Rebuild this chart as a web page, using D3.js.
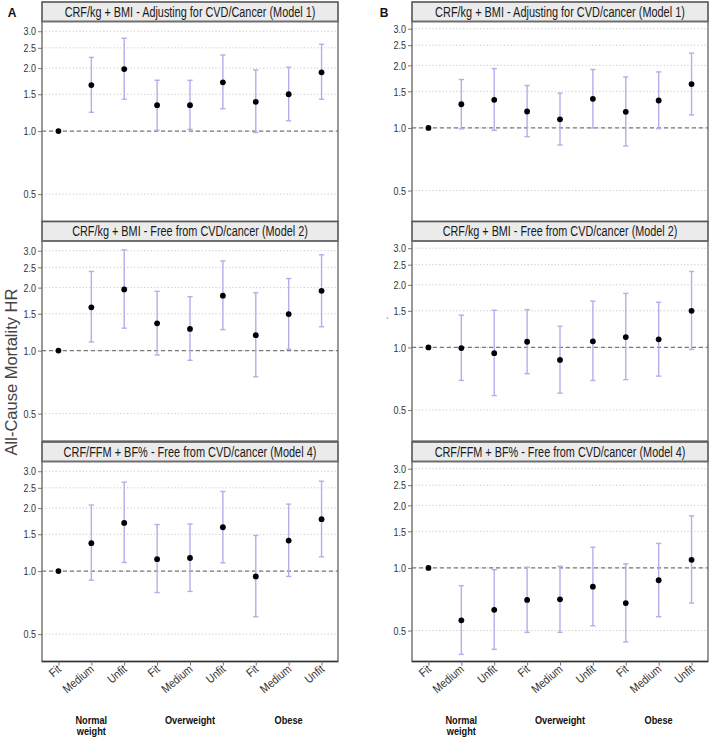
<!DOCTYPE html>
<html><head><meta charset="utf-8">
<script src="https://cdn.jsdelivr.net/npm/d3@7"></script>
<style>
body{margin:0;background:#fff;}
svg{display:block;}
text{font-family:"Liberation Sans",Arial,sans-serif;}
</style></head>
<body><svg id="c" width="709" height="740"></svg>
<script>
// ---- data ----
const categories = ["Fit","Medium","Unfit","Fit","Medium","Unfit","Fit","Medium","Unfit"];
const groupLabels = [["Normal","weight"],["Overweight"],["Obese"]];
const groupCenterIdx = [1,4,7];
const yTicks = [0.5,1.0,1.5,2.0,2.5,3.0];
const yLabel = "All-Cause Mortality HR";
const titlesA = ["CRF/kg + BMI - Adjusting for CVD/Cancer (Model 1)","CRF/kg + BMI - Free from CVD/cancer (Model 2)","CRF/FFM + BF% - Free from CVD/cancer (Model 4)"];
const titlesB = ["CRF/kg + BMI - Adjusting for CVD/cancer (Model 1)","CRF/kg + BMI - Free from CVD/cancer (Model 2)","CRF/FFM + BF% - Free from CVD/cancer (Model 4)"];

// Column A
const hrA1 = [1.00,1.66,1.98,1.33,1.33,1.71,1.38,1.50,1.91];
const loA1 = [1.00,1.23,1.42,1.01,1.02,1.28,0.985,1.12,1.42];
const hiA1 = [1.00,2.25,2.78,1.75,1.75,2.31,1.96,2.02,2.60];
const hrA2 = [1.00,1.61,1.96,1.35,1.27,1.83,1.185,1.495,1.93];
const loA2 = [1.00,1.10,1.28,0.953,0.899,1.26,0.75,1.015,1.30];
const hiA2 = [1.00,2.39,3.03,1.92,1.81,2.68,1.89,2.21,2.87];
const hrA3 = [1.00,1.36,1.70,1.14,1.155,1.62,0.943,1.40,1.77];
const loA3 = [1.00,0.905,1.10,0.79,0.80,1.096,0.606,0.943,1.17];
const hiA3 = [1.00,2.07,2.66,1.67,1.68,2.40,1.48,2.09,2.69];
// Column B
const hrB1 = [1.00,1.30,1.365,1.20,1.10,1.38,1.195,1.355,1.625];
const loB1 = [1.00,0.99,0.974,0.908,0.828,1.00,0.819,0.993,1.155];
const hiB1 = [1.00,1.71,1.93,1.60,1.47,1.91,1.76,1.86,2.29];
const hrB2 = [1.00,0.993,0.939,1.065,0.871,1.07,1.122,1.094,1.50];
const loB2 = [1.00,0.694,0.587,0.748,0.603,0.694,0.70,0.728,0.978];
const hiB2 = [1.00,1.43,1.51,1.52,1.265,1.67,1.82,1.65,2.32];
const hrB3 = [1.00,0.56,0.629,0.702,0.707,0.813,0.678,0.873,1.094];
const loB3 = [1.00,0.384,0.406,0.49,0.49,0.527,0.441,0.583,0.678];
const hiB3 = [1.00,0.822,0.981,1.008,1.019,1.258,1.046,1.312,1.78];

const columns = [
  {letter:"A", x0:42, x1:338, domain:[0.370,3.34], titles:titlesA, titleW:[251,236,253],
   panels:[[hrA1,loA1,hiA1],[hrA2,loA2,hiA2],[hrA3,loA3,hiA3]], ylab:yLabel},
  {letter:"B", x0:412, x1:708, domain:[0.355,3.25], titles:titlesB, titleW:[250,235,251],
   panels:[[hrB1,loB1,hiB1],[hrB2,loB2,hiB2],[hrB3,loB3,hiB3]], ylab:"."}
];

const svg = d3.select("#c");
const stripTops = [2, 221.5, 442];
const stripH = 19.5, plotH = 200;
const ciColor = "#b3aeea";

function condense(sel, f) {
  sel.each(function(){
    const w = this.getComputedTextLength();
    if (w > 0) d3.select(this).attr("textLength", w*f).attr("lengthAdjust","spacingAndGlyphs");
  });
}

columns.forEach((col, ci) => {
  const x = d3.scalePoint().domain(d3.range(categories.length)).range([col.x0, col.x1]).padding(0.5);
  svg.append("text").attr("x", ci===0?12:384).attr("y", 17).attr("text-anchor","middle")
     .attr("font-weight","bold").attr("font-size",12).attr("fill","#111").text(col.letter);

  col.panels.forEach((pd, pi) => {
    const sTop = stripTops[pi];
    const pTop = sTop + stripH, pBot = pTop + plotH;
    const y = d3.scaleLog().domain(col.domain).range([pBot, pTop]);
    const g = svg.append("g");
    // strip
    g.append("rect").attr("x", col.x0).attr("y", sTop).attr("width", col.x1-col.x0).attr("height", stripH)
      .attr("fill","#ebebeb").attr("stroke","#555").attr("stroke-width",1.6);
    const tt = g.append("text").attr("x",0).attr("y",0).attr("text-anchor","middle")
      .attr("font-size",14.5).attr("fill","#1a1a1a").text(col.titles[pi]);
    const nat = tt.node().getComputedTextLength();
    tt.attr("transform",`translate(${(col.x0+col.x1)/2},${sTop+stripH/2+5}) scale(${col.titleW[pi]/nat},1)`);
    // gridlines
    g.selectAll("line.grid").data(yTicks).join("line")
      .attr("x1",col.x0).attr("x2",col.x1).attr("y1",d=>y(d)).attr("y2",d=>y(d))
      .attr("stroke","#c8c8c8").attr("stroke-width",1).attr("stroke-dasharray","1.2,2.2");
    // reference line
    g.append("line").attr("x1",col.x0).attr("x2",col.x1).attr("y1",y(1)).attr("y2",y(1))
      .attr("stroke","#7a7a7a").attr("stroke-width",1.3).attr("stroke-dasharray","4,3");
    // y axis
    const ya = d3.axisLeft(y).tickValues(yTicks).tickFormat(d3.format(".1f")).tickSize(4).tickPadding(2);
    const yg = g.append("g").attr("transform",`translate(${col.x0},0)`).call(ya);
    yg.select(".domain").remove();
    yg.selectAll(".tick line").attr("stroke","#777");
    yg.selectAll(".tick text").attr("font-size",11.5).attr("fill","#333");
    condense(yg.selectAll(".tick text"), 0.78);
    // error bars
    const [hr, lo, hi] = pd;
    const idx = d3.range(categories.length);
    g.selectAll("line.ci").data(idx).join("line")
      .attr("x1",i=>x(i)).attr("x2",i=>x(i)).attr("y1",i=>y(lo[i])).attr("y2",i=>y(hi[i]))
      .attr("stroke",ciColor).attr("stroke-width",1.4);
    ["lo","hi"].forEach(k => {
      const arr = k==="lo"?lo:hi;
      g.selectAll("line.cap"+k).data(idx).join("line")
        .attr("x1",i=>x(i)-2.6).attr("x2",i=>x(i)+2.6).attr("y1",i=>y(arr[i])).attr("y2",i=>y(arr[i]))
        .attr("stroke",ciColor).attr("stroke-width",1.4);
    });
    g.selectAll("circle").data(idx).join("circle")
      .attr("cx",i=>x(i)).attr("cy",i=>y(hr[i])).attr("r",2.9).attr("fill","#000");
    // panel border
    g.append("rect").attr("x",col.x0).attr("y",pTop).attr("width",col.x1-col.x0).attr("height",plotH)
      .attr("fill","none").attr("stroke","#6e6e6e").attr("stroke-width",1.4);
    if (pi === 2) {
      g.append("line").attr("x1",col.x0).attr("x2",col.x1).attr("y1",pBot).attr("y2",pBot)
        .attr("stroke","#333").attr("stroke-width",1.6);
      const xa = d3.axisBottom(x).tickSize(4).tickFormat(i=>categories[i]);
      const xg = g.append("g").attr("transform",`translate(0,${pBot})`).call(xa);
      xg.select(".domain").remove();
      xg.selectAll(".tick line").attr("stroke","#777");
      xg.selectAll(".tick text").attr("font-size",12).attr("fill","#333")
        .attr("text-anchor","end").attr("dy",0).attr("y",0)
        .attr("transform","translate(3,9) rotate(-40)");
      condense(xg.selectAll(".tick text"), 0.85);
      groupLabels.forEach((lines, gi) => {
        lines.forEach((ln, li) => {
          const t = svg.append("text").attr("x", x(groupCenterIdx[gi])).attr("y", 724 + li*11)
            .attr("text-anchor","middle").attr("font-weight","bold").attr("font-size",11.5).attr("fill","#111").text(ln);
          condense(t, 0.8);
        });
      });
    }
  });
  // y label
  const ly = ci===0 ? 372 : 318;
  const lx = ci===0 ? 12 : 383;
  svg.append("text").attr("transform",`translate(${lx},${ly}) rotate(-90)`).attr("text-anchor","middle")
    .attr("font-size",ci===0?16.5:10).attr("fill","#444").attr("dy",5).text(col.ylab);
});
</script></body></html>
